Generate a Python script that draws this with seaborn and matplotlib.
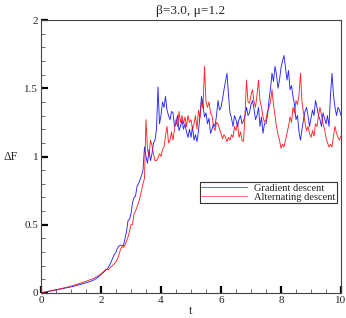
import numpy as np
import pandas as pd
import matplotlib
matplotlib.use("Agg")
import matplotlib.pyplot as plt
import seaborn as sns
from matplotlib.ticker import MultipleLocator

# time grid: 0.1 steps up to 1.9, then 0.05 steps to 10
t = np.round(np.concatenate([np.arange(0, 2.0, 0.1), np.arange(2.0, 10.001, 0.05)]), 2)

gradient = [
    0.000, 0.005, 0.009, 0.014, 0.018, 0.022, 0.027, 0.031, 0.036, 0.040,
    0.045, 0.050, 0.056, 0.062, 0.068, 0.075, 0.082, 0.090, 0.100, 0.115,
    0.135, 0.145, 0.155, 0.165, 0.175, 0.19, 0.21, 0.235, 0.26, 0.285,
    0.30, 0.33, 0.345, 0.35, 0.35, 0.345, 0.40, 0.45, 0.53, 0.54,
    0.58, 0.66, 0.70, 0.71, 0.78, 0.80, 0.83, 0.86, 0.90, 1.07,
    1.00, 0.95, 1.05, 0.97, 1.02, 1.10, 1.12, 1.20, 1.51, 1.24,
    1.30, 1.40, 1.36, 1.44, 1.34, 1.30, 1.27, 1.33, 1.32, 1.22,
    1.24, 1.30, 1.19, 1.22, 1.27, 1.20, 1.24, 1.18, 1.14, 1.20,
    1.14, 1.22, 1.12, 1.16, 1.11, 1.19, 1.30, 1.44, 1.38, 1.29,
    1.32, 1.24, 1.28, 1.17, 1.20, 1.24, 1.22, 1.30, 1.41, 1.34,
    1.36, 1.42, 1.49, 1.55, 1.61, 1.45, 1.32, 1.28, 1.22, 1.30,
    1.27, 1.22, 1.27, 1.30, 1.24, 1.26, 1.30, 1.36, 1.30, 1.32,
    1.38, 1.41, 1.35, 1.27, 1.30, 1.36, 1.22, 1.29, 1.17, 1.24,
    1.24, 1.30, 1.41, 1.50, 1.61, 1.55, 1.66, 1.60, 1.50, 1.56,
    1.65, 1.70, 1.74, 1.65, 1.56, 1.63, 1.49, 1.52, 1.44, 1.38,
    1.27, 1.30, 1.18, 1.12, 1.20, 1.27, 1.33, 1.36, 1.30, 1.22,
    1.28, 1.34, 1.30, 1.41, 1.36, 1.30, 1.27, 1.22, 1.32, 1.28,
    1.24, 1.30, 1.22, 1.45, 1.61, 1.45, 1.36, 1.30, 1.36, 1.34,
    1.30,
]

alternating = [
    0.000, 0.005, 0.010, 0.015, 0.020, 0.024, 0.029, 0.034, 0.039, 0.044,
    0.050, 0.057, 0.064, 0.071, 0.078, 0.086, 0.094, 0.102, 0.112, 0.125,
    0.14, 0.15, 0.16, 0.17, 0.175, 0.17, 0.185, 0.195, 0.205, 0.215,
    0.23, 0.25, 0.28, 0.32, 0.34, 0.335, 0.35, 0.38, 0.41, 0.45,
    0.50, 0.50, 0.58, 0.60, 0.63, 0.66, 0.70, 0.75, 0.80, 0.84,
    1.27, 1.05, 1.00, 1.12, 1.08, 1.02, 0.97, 0.97, 0.99, 1.02,
    1.00, 1.05, 1.07, 1.15, 1.22, 1.10, 1.12, 1.18, 1.12, 1.20,
    1.27, 1.22, 1.33, 1.25, 1.30, 1.24, 1.29, 1.22, 1.30, 1.25,
    1.27, 1.20, 1.24, 1.30, 1.20, 1.34, 1.28, 1.41, 1.35, 1.66,
    1.40, 1.36, 1.40, 1.32, 1.30, 1.22, 1.19, 1.25, 1.24, 1.20,
    1.17, 1.13, 1.16, 1.14, 1.11, 1.14, 1.12, 1.16, 1.14, 1.22,
    1.19, 1.25, 1.14, 1.18, 1.12, 1.11, 1.30, 1.56, 1.40, 1.39,
    1.45, 1.49, 1.40, 1.36, 1.45, 1.56, 1.41, 1.36, 1.29, 1.25,
    1.27, 1.33, 1.36, 1.40, 1.49, 1.38, 1.30, 1.22, 1.16, 1.12,
    1.06, 1.09, 1.07, 1.12, 1.17, 1.22, 1.29, 1.25, 1.36, 1.32,
    1.41, 1.38, 1.45, 1.61, 1.40, 1.32, 1.25, 1.19, 1.22, 1.17,
    1.14, 1.19, 1.15, 1.24, 1.22, 1.30, 1.36, 1.30, 1.24, 1.20,
    1.14, 1.10, 1.07, 1.09, 1.07, 1.15, 1.22, 1.17, 1.14, 1.12,
    1.15,
]

labels = ["Gradient descent", "Alternating descent"]
colors = ["#0000ff", "#ff0000"]
title = "\u03b2=3.0, \u03bc=1.2"

sns.set_style("ticks")
plt.rcParams["font.family"] = ["Liberation Serif", "DejaVu Serif"]

fig = plt.figure(figsize=(3.46, 3.18), dpi=100)
ax = fig.add_axes([41 / 346, 25 / 318, 300 / 346, 273 / 318])

for y, lab, c in zip([gradient, alternating], labels, colors):
    sns.lineplot(x=t, y=y, ax=ax, color=c, linewidth=0.65, alpha=0.85, label=lab)

ax.set_xlim(0, 10)
ax.set_ylim(0, 2)
ax.xaxis.set_major_locator(MultipleLocator(2))
ax.xaxis.set_minor_locator(MultipleLocator(0.5))
ax.yaxis.set_major_locator(MultipleLocator(0.5))
ax.yaxis.set_minor_locator(MultipleLocator(0.1))
ax.set_xticklabels([f"{v:g}" for v in ax.get_xticks()])
ax.set_yticklabels([f"{v:g}" for v in ax.get_yticks()])
ax.tick_params(which="major", direction="in", length=5, width=1.6, color="black",
               labelsize=8, pad=2, top=False, right=False)
ax.tick_params(which="minor", direction="in", length=3, width=0.6, color="#555555",
               top=False, right=False)
for s in ax.spines.values():
    s.set_visible(True)
    s.set_linewidth(0.8)
    s.set_color("#444444")

ax.set_title(title, fontsize=9.5, pad=4)
ax.set_xlabel("t", fontsize=9, labelpad=0)
ax.set_ylabel("\u0394F", fontsize=8.5, rotation=0, labelpad=10, va="center")

leg = ax.legend(loc="upper right", bbox_to_anchor=(0.985, 0.405), fontsize=7.5,
                frameon=True, fancybox=False, handlelength=4.4, handletextpad=0.7,
                labelspacing=0.0, borderpad=0.1, borderaxespad=0)
leg.get_frame().set_edgecolor("black")
leg.get_frame().set_linewidth(0.8)
for h in leg.get_lines():
    h.set_linewidth(0.7)
    h.set_alpha(0.6)

fig.savefig("out.png", dpi=100)
